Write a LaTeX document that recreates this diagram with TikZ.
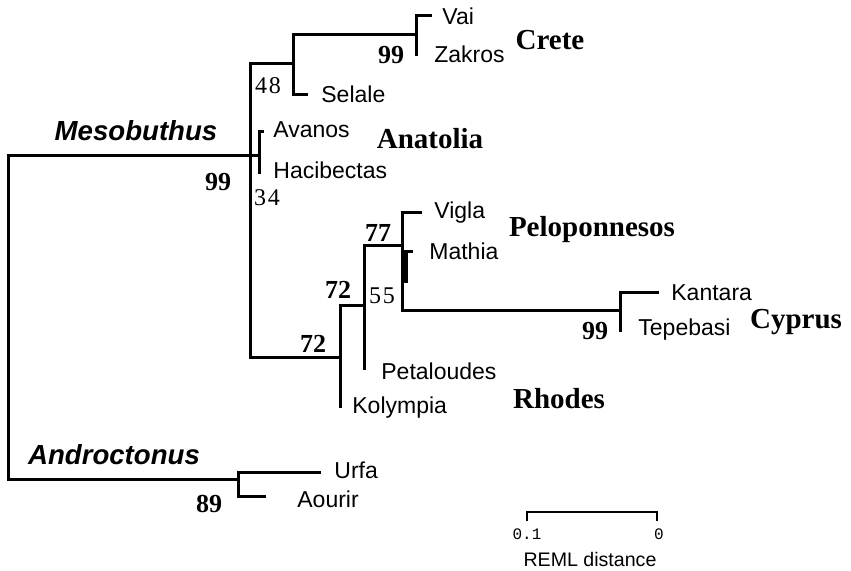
\documentclass[tikz,border=0pt]{standalone}
\usepackage{fontspec}
\setmainfont{Liberation Serif}
\setsansfont{Liberation Sans}
\setmonofont{Liberation Mono}
\usetikzlibrary{positioning}

\begin{document}
\begin{tikzpicture}[x=0.5pt, y=-0.5pt,
    branch/.style={line width=1.5pt},
    taxon/.style={anchor=west, inner sep=0pt, font=\sffamily\fontsize{11.5}{13}\selectfont},
    genus/.style={inner sep=0pt, font=\sffamily\bfseries\itshape\fontsize{13.8}{16}\selectfont},
    region/.style={inner sep=0pt, font=\bfseries\fontsize{14.5}{16}\selectfont},
    boot/.style={inner sep=0pt, font=\bfseries\fontsize{13}{15}\selectfont},
    weak/.style={inner sep=0pt, font=\fontsize{12}{14}\selectfont},
    scalebar/.style={line width=0.7pt}
  ]
    \useasboundingbox (0,0) rectangle (851,571);

    % internal nodes
    \coordinate (root) at (8,318);
    \coordinate (mes) at (250,156);
    \coordinate (crsel) at (293,64);
    \coordinate (crete) at (416,35);
    \coordinate (anat) at (259,156);
    \coordinate (rhod) at (340,358);
    \coordinate (petpel) at (364,306);
    \coordinate (pelo) at (402,246);
    \coordinate (mathcy) at (405,252);
    \coordinate (mathcyb) at (405,283);
    \coordinate (cypr) at (620,311);
    \coordinate (andr) at (238,479);

    % tips
    \coordinate (vai) at (432,16);
    \coordinate (zakros) at (416,56);
    \coordinate (selale) at (308,95);
    \coordinate (avanos) at (264,132);
    \coordinate (haci) at (259,174);
    \coordinate (vigla) at (422,213);
    \coordinate (mathia) at (413,252);
    \coordinate (kantara) at (659,293);
    \coordinate (tepebasi) at (620,332);
    \coordinate (petal) at (364,370);
    \coordinate (kolym) at (340,408);
    \coordinate (urfa) at (321,472);
    \coordinate (aourir) at (266,496);

    % branches
    \draw[branch] (mes) -| (root) |- (andr);
    \draw[branch] (crsel) -| (mes) |- (rhod);
    \draw[branch] (crete) -| (crsel) |- (selale);
    \draw[branch] (vai) -| (crete) |- (zakros);
    \draw[branch] (mes) -- (anat);
    \draw[branch] (avanos) -| (anat) |- (haci);
    \draw[branch] (petpel) -| (rhod) |- (kolym);
    \draw[branch] (pelo) -| (petpel) |- (petal);
    \draw[branch] (vigla) -| (pelo) |- (cypr);
    \draw[branch] (pelo |- mathia) -- (mathia);
    \draw[branch, line width=2.5pt] (mathcy) -- (mathcyb);
    \draw[branch] (kantara) -| (cypr) |- (tepebasi);
    \draw[branch] (urfa) -| (andr) |- (aourir);

    % tip labels
    \node[taxon] (tvai) at (442,16) {Vai};
    \node[taxon] (tzakros) at (434,54) {Zakros};
    \node[taxon] (tselale) at (321,94) {Selale};
    \node[taxon] (tavanos) at (273,130) {Avanos};
    \node[taxon] (thaci) at (273,170) {Hacibectas};
    \node[taxon] (tvigla) at (434,213) {Vigla};
    \node[taxon] (tmathia) at (429,251) {Mathia};
    \node[taxon] (tkantara) at (671,293) {Kantara};
    \node[taxon] (ttepebasi) at (638,330) {Tepebasi};
    \node[taxon] (tpetal) at (381,371) {Petaloudes};
    \node[taxon] (tkolym) at (352,408) {Kolympia};
    \node[taxon] (turfa) at (334,470) {Urfa};
    \node[taxon] (taourir) at (297,499) {Aourir};

    % groups
    \node[genus] (gmes) at (136,131) {Mesobuthus};
    \node[genus] (gandr) at (114,455) {Androctonus};
    \node[region] (rcrete) at (550,40) {Crete};
    \node[region] (ranat) at (430,139) {Anatolia};
    \node[region] (rpelo) at (592,230) {Peloponnesos};
    \node[region] (rcypr) at (796,322) {Cyprus};
    \node[region] (rrhod) at (559,399) {Rhodes};

    % support values
    \node[boot] (bcrete) at (391,55) {99};
    \node[weak] (bcrsel) at (268,86) {4\kern1pt 8};
    \node[boot] (bmes) at (218,182) {99};
    \node[weak] (banat) at (267,198) {3\kern1pt 4};
    \node[boot] (brhod) at (313,344) {72};
    \node[boot] (bpetpel) at (338,290) {72};
    \node[weak] (bmathcy) at (382,296) {5\kern1pt 5};
    \node[boot] (bpelo) at (378,233) {77};
    \node[boot] (bcypr) at (595,331) {99};
    \node[boot] (bandr) at (209,504) {89};

    % scale
    \coordinate (sbl) at (527,512);
    \coordinate (sbr) at (657,512);
    \coordinate (sblt) at (527,521);
    \coordinate (sbrt) at (657,521);
    \draw[scalebar] (sblt) -- (sbl) -- (sbr) -- (sbrt);
    \node[inner sep=0pt, font=\ttfamily\fontsize{8}{9}\selectfont] (sbla) at (527,534) {0.1};
    \node[inner sep=0pt, font=\ttfamily\fontsize{8}{9}\selectfont] (sblb) at (659,534) {0};
    \node[inner sep=0pt, font=\sffamily\fontsize{9.8}{11}\selectfont] (sbtitle) at (590,559) {REML distance};
\end{tikzpicture}
\end{document}
